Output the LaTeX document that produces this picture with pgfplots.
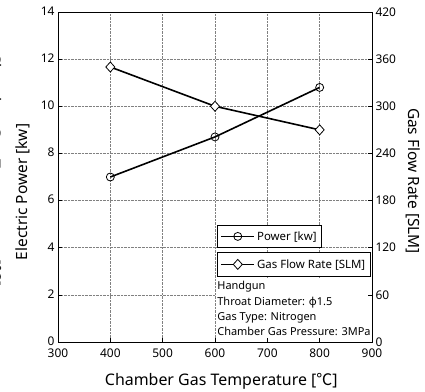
\documentclass[border=0pt]{standalone}
\usepackage{fontspec}
\setmainfont{Noto Sans}
\newfontfamily\cjk{Noto Sans CJK JP}
\usepackage{pgfplots}
\pgfplotsset{compat=1.18}

\pgfplotsset{
  every axis/.append style={
    /pgf/number format/assume math mode=true,
    tick label style={font=\fontsize{12}{14}\selectfont},
    label style={font=\fontsize{15.5}{18}\selectfont},
    tick align=inside,
    major tick length=4bp,
    tick style={black, line width=0.6bp},
    axis line style={black, line width=0.7bp},
    legend image code/.code={\draw[mark repeat=2,mark phase=2,#1] plot coordinates {(0bp,0bp)(16.5bp,0bp)(33bp,0bp)};},
    legend style={draw=black, line width=0.6bp, fill=white,
      font=\fontsize{11.5}{13}\selectfont, anchor=north west,
      inner xsep=3bp, inner ysep=4bp, cells={anchor=west}},
  },
}

\begin{document}
\begin{tikzpicture}
\useasboundingbox (0,0) rectangle (425bp,392bp);
\node[rotate=-90, anchor=north, inner sep=0pt, font=\fontsize{16}{18}\selectfont] at (2bp,222bp) {Chamber Gas Temperature [{\cjk ℃}]};

\begin{axis}[
  at={(58bp,50bp)}, anchor=south west,
  scale only axis, width=314bp, height=330bp,
  xmin=300, xmax=900, ymin=0, ymax=14,
  xtick={300,400,...,900}, ytick={0,2,...,14},
  xtick pos=bottom, ytick pos=left,
  xticklabel style={yshift=-3bp},
  yticklabel style={yshift=1bp},
  grid=major, grid style={densely dotted, gray, line width=0.6bp},
  xlabel={Chamber Gas Temperature [{\cjk ℃}]},
  ylabel={Electric Power [kw]},
  xlabel style={at={(axis description cs:0.52,-0.118)}, anchor=center, font=\fontsize{16}{18}\selectfont},
  ylabel style={at={(axis description cs:-0.1115,0.4545)}, anchor=center},
  legend style={at={(0.507,0.3545)}},
  clip=false,
]
\addplot[black, line width=1.6bp, mark=o, mark size=4bp, mark options={fill=white, solid, line width=0.8bp}]
  coordinates {(400,7.0) (600,8.7) (800,10.8)};
\addlegendentry{Power [kw]}
\fill[white] (rel axis cs:0.5032,0) rectangle (rel axis cs:1,0.191);
\node[anchor=north west, inner sep=0pt, align=left, font=\fontsize{11}{15.3}\selectfont]
  at (rel axis cs:0.507,0.184) {Handgun\\Throat Diameter: φ1.5\\Gas Type: Nitrogen\\Chamber Gas Pressure: 3MPa};
\end{axis}

\begin{axis}[
  at={(58bp,50bp)}, anchor=south west,
  scale only axis, width=314bp, height=330bp,
  xmin=300, xmax=900, ymin=0, ymax=420,
  xtick={300,400,...,900}, xticklabels={},
  ytick={0,60,...,420},
  xtick pos=bottom, ytick pos=right,
  ylabel={Gas Flow Rate [SLM]},
  ylabel style={at={(axis description cs:1.1306,0.488)}, anchor=center, rotate=180},
  legend style={at={(0.507,0.2727)}, inner ysep=5bp},
]
\addplot[black, line width=1.6bp, mark=diamond*, mark size=5bp, mark options={fill=white, solid, line width=0.8bp, xscale=1.2}]
  coordinates {(400,350) (600,300) (800,270)};
\addlegendentry{Gas Flow Rate [SLM]}
\end{axis}
\end{tikzpicture}
\end{document}
